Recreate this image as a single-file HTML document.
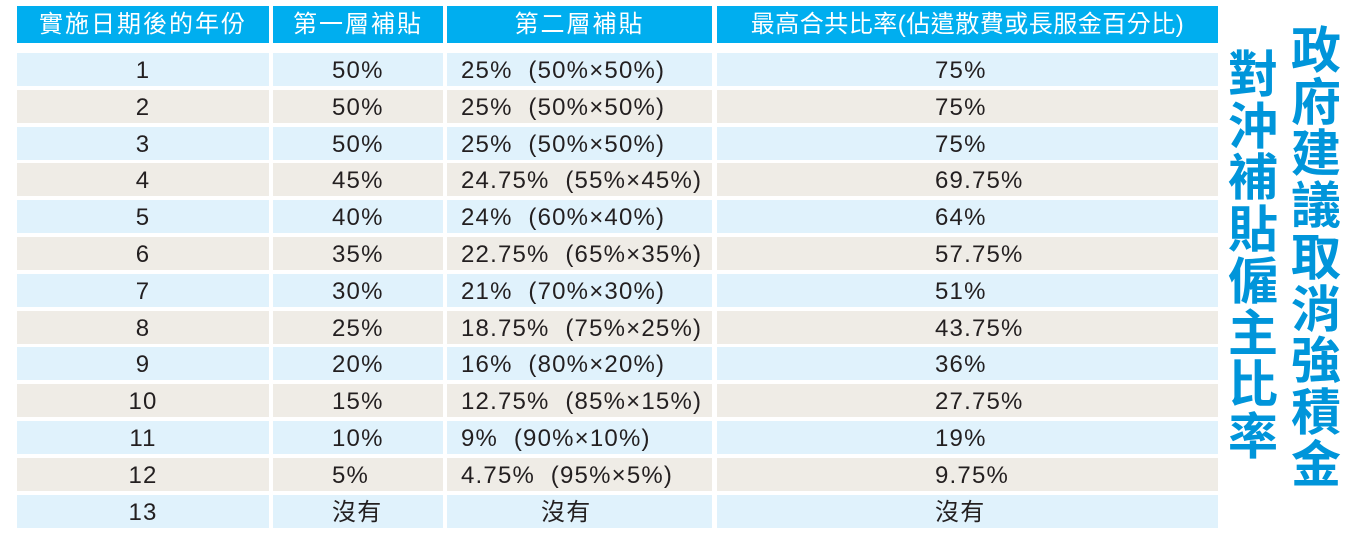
<!DOCTYPE html>
<html><head><meta charset="utf-8"><style>
body{margin:0;width:1353px;height:540px;background:#fff;position:relative;overflow:hidden;font-family:"Liberation Sans","Noto Sans CJK TC",sans-serif;}
.c{position:absolute;height:33px;line-height:35px;font-size:24px;letter-spacing:1.2px;color:#231f20;white-space:pre;}
.h{position:absolute;top:6px;height:37px;line-height:37px;background:#00aeef;color:#fff;font-size:24px;letter-spacing:2px;text-align:center;white-space:nowrap;overflow:hidden;}
.v{position:absolute;color:#0095da;font-weight:bold;font-size:50px;line-height:51.7px;width:56px;text-align:center;font-family:"Noto Sans CJK TC",sans-serif;}
</style></head><body>
<div class="h" style="left:17px;width:252px">實施日期後的年份</div>
<div class="h" style="left:273px;width:170px">第一層補貼</div>
<div class="h" style="left:447px;width:265px">第二層補貼</div>
<div class="h" style="left:717px;width:501px;letter-spacing:0.5px">最高合共比率(佔遣散費或長服金百分比)</div>
<div id="t"></div>
<div class="v" style="left:1225px;top:46px">對<br>沖<br>補<br>貼<br>僱<br>主<br>比<br>率</div>
<div class="v" style="left:1288px;top:22px">政<br>府<br>建<br>議<br>取<br>消<br>強<br>積<br>金</div>
<script>
var d=[["1","50%","25%  (50%×50%)","75%"],["2","50%","25%  (50%×50%)","75%"],["3","50%","25%  (50%×50%)","75%"],["4","45%","24.75%  (55%×45%)","69.75%"],["5","40%","24%  (60%×40%)","64%"],["6","35%","22.75%  (65%×35%)","57.75%"],["7","30%","21%  (70%×30%)","51%"],["8","25%","18.75%  (75%×25%)","43.75%"],["9","20%","16%  (80%×20%)","36%"],["10","15%","12.75%  (85%×15%)","27.75%"],["11","10%","9%  (90%×10%)","19%"],["12","5%","4.75%  (95%×5%)","9.75%"],["13","沒有","沒有","沒有"]];
var h="";
d.forEach(function(r,i){var y=(53+i*36.8).toFixed(1);var bg=i%2?"#efece6":"#e0f2fc";
var cols=[[17,252],[273,170],[447,265],[717,501]];
var pads=[0,59,14,218];
for(var j=0;j<4;j++){var x=cols[j][0],w=cols[j][1];var txt=r[j];var p=pads[j];if(i==12&&j==2)p=94;
h+='<div class="c" style="left:'+x+'px;top:'+y+'px;width:'+(j==0?w:w-p)+'px;background:'+bg+';'+(j==0?'text-align:center;':'padding-left:'+p+'px;')+'">'+txt+'</div>';}
});
document.getElementById("t").innerHTML=h;
</script>
</body></html>
